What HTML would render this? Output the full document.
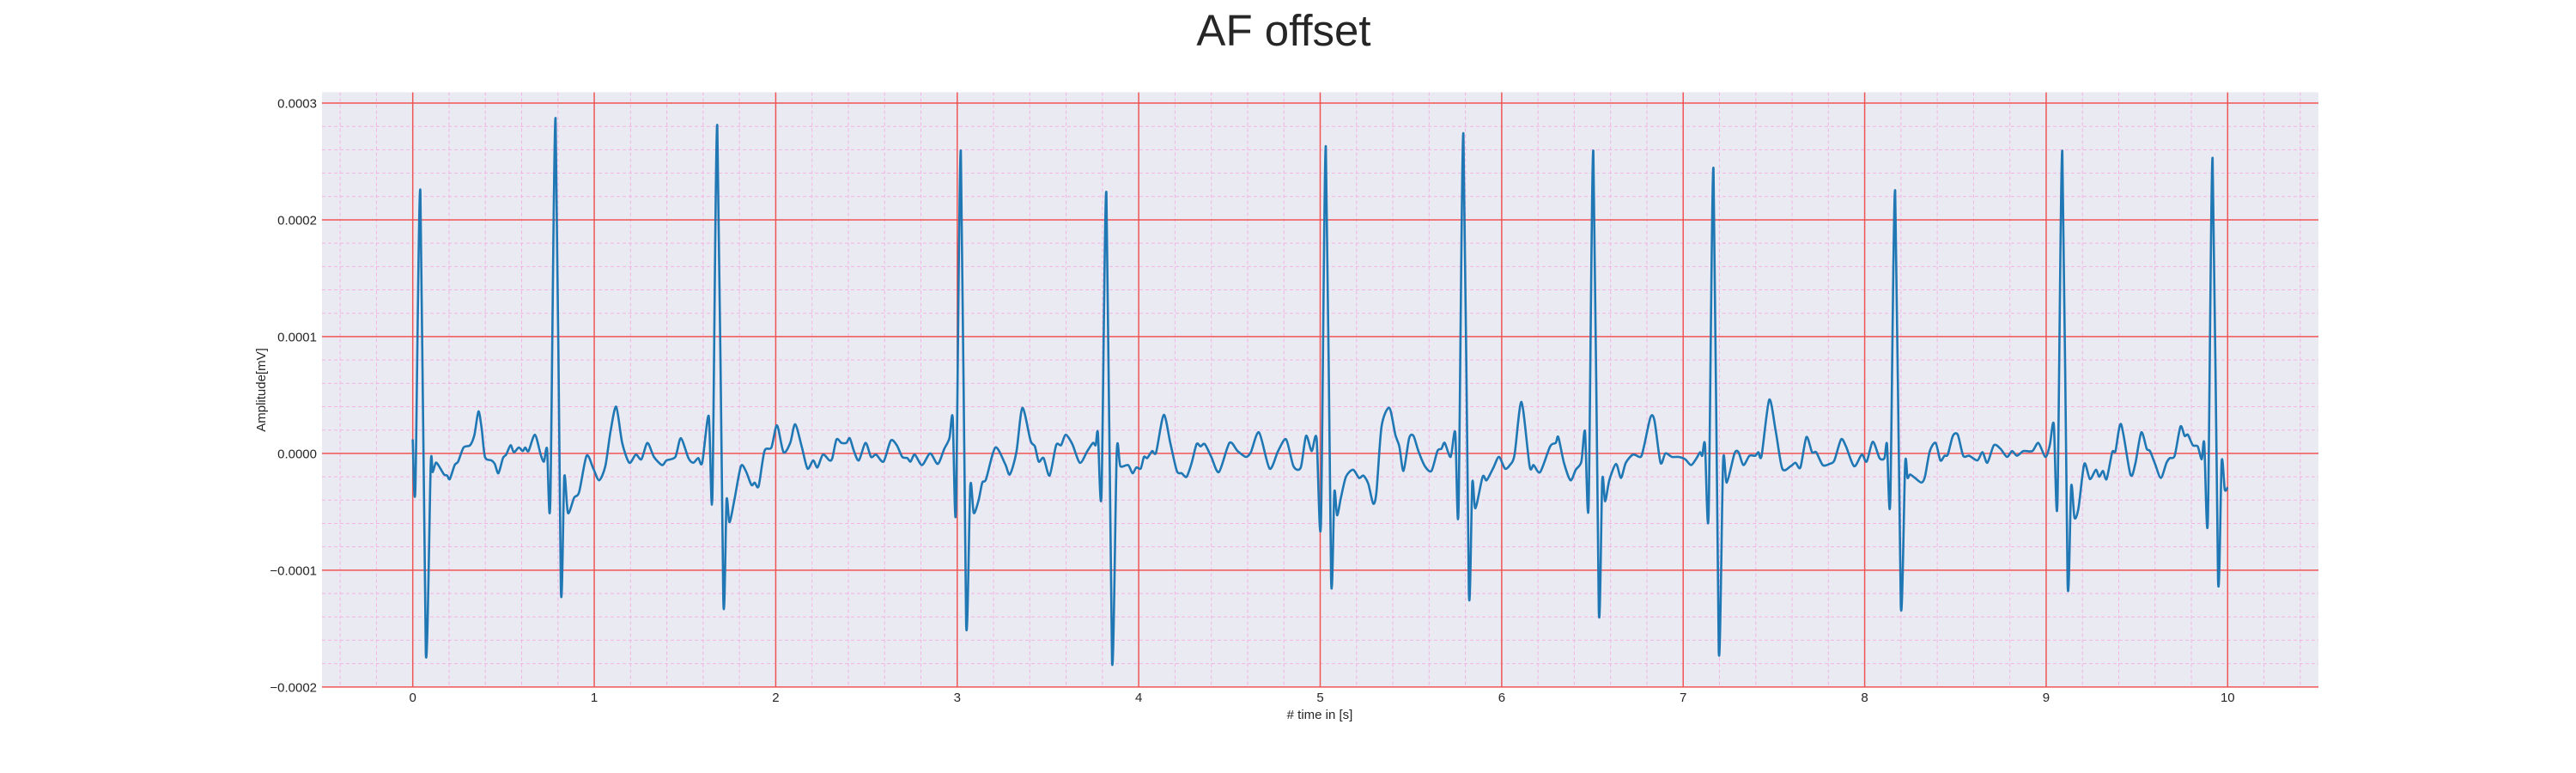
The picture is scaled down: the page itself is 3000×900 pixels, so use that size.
<!DOCTYPE html>
<html><head><meta charset="utf-8"><title>AF offset</title>
<style>html,body{margin:0;padding:0;background:#fff;}svg{display:block;font-family:"Liberation Sans",Arial,sans-serif;}</style>
</head><body>
<svg id="chart" width="3000" height="900" viewBox="0 0 3000 900" xmlns="http://www.w3.org/2000/svg">
<text x="1495" y="53" font-size="51" fill="#262626" text-anchor="middle">AF offset</text>
<rect x="375" y="107.5" width="2325" height="693" fill="#eaeaf2"/>
<g id="minor"></g>
<g id="major"></g>
<g id="series"></g>
<g id="ticks"></g>
<text x="1537" y="837" font-size="15" fill="#262626" text-anchor="middle"># time in [s]</text>
<text x="0" y="0" font-size="15" fill="#262626" text-anchor="middle" transform="translate(309,454) rotate(-90)">Amplitude[mV]</text>
</svg>
<script>
// time (s)
const times = [0,0.0145,0.042,0.072,0.099,0.11,0.127,0.145,0.172,0.19,0.204,0.231,0.25,0.28,0.316,0.34,0.362,0.38,0.398,0.434,0.452,0.472,0.497,0.515,0.539,0.557,0.584,0.606,0.62,0.638,0.673,0.705,0.723,0.74,0.758,0.787,0.816,0.835,0.855,0.889,0.917,0.958,0.995,1.027,1.061,1.09,1.121,1.154,1.193,1.229,1.26,1.293,1.329,1.374,1.398,1.447,1.477,1.519,1.546,1.573,1.595,1.631,1.651,1.678,1.711,1.729,1.745,1.772,1.808,1.835,1.866,1.884,1.906,1.938,1.976,2.007,2.043,2.08,2.107,2.143,2.175,2.206,2.23,2.26,2.296,
2.312,2.335,2.362,2.389,2.408,2.431,2.458,2.495,2.525,2.553,2.594,2.634,2.667,2.697,2.725,2.743,2.766,2.806,2.851,2.893,2.929,2.957,2.975,2.993,3.02,3.049,3.072,3.091,3.118,3.138,3.159,3.21,3.264,3.29,3.326,3.359,3.404,3.428,3.449,3.476,3.509,3.545,3.572,3.598,3.634,3.676,3.717,3.748,3.763,3.775,3.795,3.822,3.853,3.879,3.899,3.942,3.966,3.987,4.011,4.029,4.047,4.074,4.096,4.138,4.174,4.21,4.237,4.264,4.292,4.319,4.341,4.364,4.4,4.442,4.5,4.545,4.591,4.618,4.663,4.721,4.768,4.812,4.853,4.893,4.922,4.953,4.98,5.004,5.031,
5.06,5.078,5.093,5.114,5.142,5.181,5.214,5.238,5.265,5.292,5.31,5.338,5.381,5.414,5.436,5.459,5.49,5.514,5.541,5.577,5.613,5.646,5.668,5.686,5.719,5.744,5.762,5.789,5.819,5.838,5.855,5.895,5.917,5.955,5.985,6.018,6.045,6.071,6.109,6.154,6.176,6.212,6.267,6.298,6.312,6.343,6.379,6.408,6.439,6.459,6.479,6.505,6.535,6.554,6.57,6.593,6.63,6.657,6.684,6.724,6.766,6.784,6.82,6.842,6.875,6.902,6.938,6.975,7.011,7.044,7.074,7.093,7.105,7.12,7.14,7.167,7.196,7.22,7.24,7.283,7.305,7.332,7.365,7.397,7.414,7.432,7.474,7.51,7.546,7.592,7.619,7.646,7.679,7.71,7.733,7.769,7.806,
7.833,7.87,7.897,7.942,7.984,8.011,8.045,8.082,8.109,8.123,8.141,8.168,8.199,8.223,8.236,8.25,8.277,8.313,8.332,8.359,8.391,8.417,8.44,8.458,8.486,8.513,8.543,8.576,8.621,8.649,8.676,8.712,8.748,8.784,8.812,8.839,8.875,8.924,8.957,8.996,9.02,9.042,9.062,9.089,9.118,9.138,9.156,9.178,9.21,9.241,9.274,9.292,9.313,9.333,9.364,9.382,9.413,9.464,9.491,9.524,9.554,9.572,9.6,9.632,9.663,9.681,9.708,9.74,9.763,9.781,9.808,9.835,9.857,9.871,9.891,9.917,9.947,9.967,9.984,10.0];
// amplitude in units of 1e-5 mV
const amps = [1.2,-3.0,22.5,-17.1,-1.0,-1.6,-0.8,-1.1,-1.8,-1.9,-2.2,-1.0,-0.7,0.5,0.7,1.6,3.6,2.1,-0.3,-0.6,-0.9,-1.7,-0.4,-0.1,0.7,0.1,0.5,0.2,0.5,0.2,1.6,-0.1,-0.7,0.4,-4.1,28.7,-11.5,-2.0,-5.1,-3.8,-3.3,-0.2,-1.3,-2.3,-1.1,1.9,4.0,0.9,-0.8,-0.1,-0.5,0.9,-0.3,-1.0,-0.6,-0.3,1.3,-0.4,-0.8,-0.4,-0.8,3.2,-3.7,28.1,-12.4,-4.0,-5.9,-4.0,-1.1,-1.5,-2.7,-2.5,-2.8,0.2,0.5,2.4,0.1,0.9,2.5,0.6,-1.3,-0.6,-1.2,-0.1,-0.6,
-0.4,1.2,0.9,0.9,1.3,0.2,-0.6,0.9,-0.3,-0.1,-0.7,1.1,0.7,-0.3,-0.4,-0.7,-0.1,-1.0,0,-0.9,0.4,1.3,3.1,-4.9,25.9,-14.5,-2.8,-5.1,-4.0,-2.5,-2.2,0.5,-0.9,-1.8,0.1,3.9,1.1,0.6,-0.7,-0.4,-1.9,0.7,0.7,1.6,0.8,-0.8,0.2,0.9,0.7,1.8,-3.5,22.3,-17.8,0.1,-1.1,-1.0,-1.7,-1.2,-1.3,-0.3,-0.4,0.2,0.1,3.3,0.9,-1.5,-1.7,-2.0,-0.8,0.8,0.6,0.8,-0.3,-1.6,0.9,0.2,-0.3,0.1,1.8,-1.3,0.2,1.2,-1.1,-1.2,1.5,0.2,1.3,-6.0,26.3,
-10.7,-3.3,-5.3,-3.8,-2.0,-1.4,-2.1,-1.9,-2.6,-4.3,-3.3,2.3,3.9,1.6,0.6,-1.5,1.3,1.5,0.2,-1.1,-1.5,0.2,0.4,0.9,-0.3,1.8,-4.9,27.4,-11.8,-2.5,-4.7,-2.0,-2.3,-1.2,-0.3,-1.3,-1.0,-0.1,4.4,-1.1,-1.0,-1.6,0.6,0.9,1.4,-0.8,-2.3,-1.4,-0.7,1.9,-4.4,25.9,-13.4,-2.3,-4.1,-2.3,-0.9,-2.1,-0.8,-0.1,-0.3,0.6,3.1,2.8,-0.8,0,-0.3,-0.3,-0.5,-1.0,-0.4,0.1,-0.2,0.8,-5.3,24.4,-16.9,-0.7,-2.5,0,0.1,-1.0,-0.2,-0.2,0.1,-0.2,4.6,1.9,-1.3,-1.1,-0.8,-1.2,1.4,0.1,0.1,-1.0,-0.9,
-0.6,1.2,0.6,-1.1,-0.1,-0.7,1.0,-0.4,-0.4,0.8,-4.1,22.5,-13.0,-0.9,-2.1,-1.8,-2.1,-2.5,-2.0,0.2,0.9,-0.6,-0.2,-0.1,1.5,1.6,-0.2,-0.2,-0.6,0.1,-0.8,0.7,0.4,-0.3,0.2,-0.2,0.2,0.2,0.9,-0.3,0.7,2.5,-4.3,25.9,-11.0,-2.8,-5.5,-4.7,-0.9,-2.2,-1.4,-2.0,-1.5,-2.2,0.1,0.2,2.5,-1.8,-0.9,1.8,0.4,0.2,-0.9,-2.1,-0.8,-0.4,-0.2,2.3,1.5,1.6,0.7,0.6,-0.5,0.9,-5.7,25.3,-10.8,-0.7,-3.1,-2.9];
const xTickLabels = ["0","1","2","3","4","5","6","7","8","9","10"];
const yTickValues = [-20,-10,0,10,20,30];
const yTickLabels = ["\u22120.0002","\u22120.0001","0.0000","0.0001","0.0002","0.0003"];

const X0=375, X1=2700, Y0=107.5, Y1=800.5;
const xMin=-0.5, xMax=10.5, yMin=-20.05, yMax=30.92;
function sx(t){return X0+(t-xMin)/(xMax-xMin)*(X1-X0);}
function sy(v){return Y1-(v-yMin)/(yMax-yMin)*(Y1-Y0);}
const NS="http://www.w3.org/2000/svg";
function mk(tag,attrs,parent){const e=document.createElementNS(NS,tag);for(const k in attrs)e.setAttribute(k,attrs[k]);parent.appendChild(e);return e;}
const minor=document.getElementById('minor'),major=document.getElementById('major'),series=document.getElementById('series'),ticks=document.getElementById('ticks');
// minor grid
for(let i=-2;i<=52;i++){const t=i*0.2; if(t<xMin-1e-9||t>xMax+1e-9)continue; if(Math.abs(t-Math.round(t))<1e-9)continue;
  const l=mk('line',{x1:sx(t),x2:sx(t),y1:Y0,y2:Y1,stroke:'#f3b3e4','stroke-width':1,'stroke-dasharray':'4,3'},minor);
  
  }
for(let i=-10;i<=15;i++){const v=i*2; if(v<yMin||v>yMax||v%10===0)continue;
  const l=mk('line',{x1:X0,x2:X1,y1:sy(v),y2:sy(v),stroke:'#f3b3e4','stroke-width':1,'stroke-dasharray':'4,3'},minor);
  
  }
// major grid + ticks
xTickLabels.forEach((lab,i)=>{const x=sx(i);
  const l=mk('line',{x1:x,x2:x,y1:Y0,y2:Y1,stroke:'#f05555','stroke-width':1.5},major);
  
  
  const t=mk('text',{x:x,y:817,'font-size':15,fill:'#262626','text-anchor':'middle'},ticks);t.textContent=lab;
  
  });
yTickValues.forEach((v,i)=>{const y=sy(v);
  const l=mk('line',{x1:X0,x2:X1,y1:y,y2:y,stroke:'#f05555','stroke-width':1.5},major);
  
  
  const t=mk('text',{x:369,y:y+5.5,'font-size':15,fill:'#262626','text-anchor':'end'},ticks);t.textContent=yTickLabels[i];
  
  });
// series (smoothed Catmull-Rom through the read points)
const P=times.map((t,i)=>[sx(t),sy(amps[i])]);
const k=0.8/6;
let d='M'+P[0][0].toFixed(2)+','+P[0][1].toFixed(2);
for(let i=0;i<P.length-1;i++){
  const p0=P[Math.max(0,i-1)],p1=P[i],p2=P[i+1],p3=P[Math.min(P.length-1,i+2)];
  const c1x=p1[0]+(p2[0]-p0[0])*k,c1y=p1[1]+(p2[1]-p0[1])*k;
  const c2x=p2[0]-(p3[0]-p1[0])*k,c2y=p2[1]-(p3[1]-p1[1])*k;
  d+='C'+c1x.toFixed(2)+','+c1y.toFixed(2)+' '+c2x.toFixed(2)+','+c2y.toFixed(2)+' '+p2[0].toFixed(2)+','+p2[1].toFixed(2);
}
const p=mk('path',{d:d,fill:'none',stroke:'#1f77b4','stroke-width':2.6,'stroke-linejoin':'round'},series);


</script>
</body></html>
